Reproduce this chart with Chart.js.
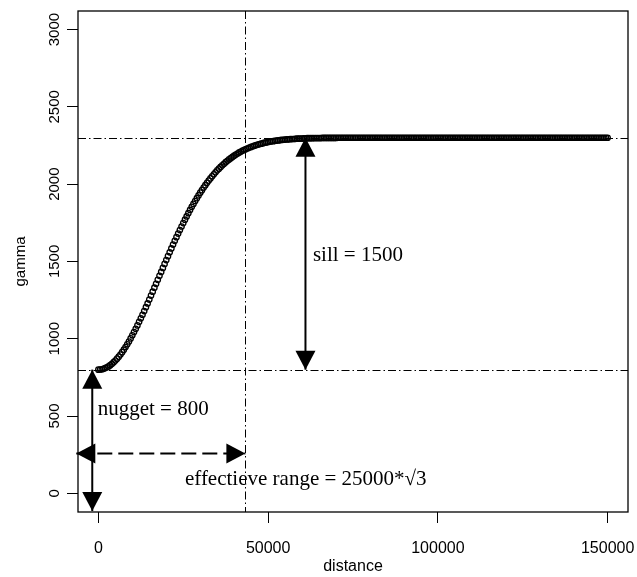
<!DOCTYPE html>
<html>
<head>
<meta charset="utf-8">
<script src="https://cdn.jsdelivr.net/npm/chart.js@4"></script>
<style>
  html, body { margin: 0; padding: 0; background: #fff; }
  #wrap { width: 637px; height: 577px; }
</style>
</head>
<body>
<div id="wrap"><canvas id="chart" width="637" height="577"></canvas></div>
<script>
// semivariogram points (distance, gamma)
const distances = [
  0,500,1000,1500,2000,2500,3000,3500,4000,4500,5000,5500,6000,6500,7000,7500,8000,8500,9000,9500,
  10000,10500,11000,11500,12000,12500,13000,13500,14000,14500,15000,15500,16000,16500,17000,17500,18000,18500,19000,19500,
  20000,20500,21000,21500,22000,22500,23000,23500,24000,24500,25000,25500,26000,26500,27000,27500,28000,28500,29000,29500,
  30000,30500,31000,31500,32000,32500,33000,33500,34000,34500,35000,35500,36000,36500,37000,37500,38000,38500,39000,39500,
  40000,40500,41000,41500,42000,42500,43000,43500,44000,44500,45000,45500,46000,46500,47000,47500,48000,48500,49000,49500,
  50000,50500,51000,51500,52000,52500,53000,53500,54000,54500,55000,55500,56000,56500,57000,57500,58000,58500,59000,59500,
  60000,60500,61000,61500,62000,62500,63000,63500,64000,64500,65000,65500,66000,66500,67000,67500,68000,68500,69000,69500,
  70000,70500,71000,71500,72000,72500,73000,73500,74000,74500,75000,75500,76000,76500,77000,77500,78000,78500,79000,79500,
  80000,80500,81000,81500,82000,82500,83000,83500,84000,84500,85000,85500,86000,86500,87000,87500,88000,88500,89000,89500,
  90000,90500,91000,91500,92000,92500,93000,93500,94000,94500,95000,95500,96000,96500,97000,97500,98000,98500,99000,99500,
  100000,100500,101000,101500,102000,102500,103000,103500,104000,104500,105000,105500,106000,106500,107000,107500,108000,108500,109000,109500,
  110000,110500,111000,111500,112000,112500,113000,113500,114000,114500,115000,115500,116000,116500,117000,117500,118000,118500,119000,119500,
  120000,120500,121000,121500,122000,122500,123000,123500,124000,124500,125000,125500,126000,126500,127000,127500,128000,128500,129000,129500,
  130000,130500,131000,131500,132000,132500,133000,133500,134000,134500,135000,135500,136000,136500,137000,137500,138000,138500,139000,139500,
  140000,140500,141000,141500,142000,142500,143000,143500,144000,144500,145000,145500,146000,146500,147000,147500,148000,148500,149000,149500,
  150000
];
const gamma = [
  800,801,802,805,810,815,821,829,838,848,859,871,884,898,913,929,946,964,982,1002,
  1022,1043,1064,1086,1109,1132,1155,1179,1204,1228,1253,1279,1304,1330,1355,1381,1407,1432,1458,1484,
  1509,1534,1559,1584,1609,1633,1657,1680,1703,1726,1748,1770,1791,1812,1833,1853,1872,1891,1909,1927,
  1945,1961,1978,1993,2009,2023,2037,2051,2064,2077,2089,2100,2111,2122,2132,2142,2151,2160,2168,2176,
  2184,2191,2198,2205,2211,2217,2222,2227,2232,2237,2241,2245,2249,2253,2256,2259,2262,2265,2268,2270,
  2273,2275,2277,2278,2280,2282,2283,2285,2286,2287,2288,2289,2290,2291,2292,2292,2293,2294,2294,2295,
  2295,2296,2296,2297,2297,2297,2297,2298,2298,2298,2298,2298,2299,2299,2299,2299,2299,2299,2299,2299,
  2299,2300,2300,2300,2300,2300,2300,2300,2300,2300,2300,2300,2300,2300,2300,2300,2300,2300,2300,2300,
  2300,2300,2300,2300,2300,2300,2300,2300,2300,2300,2300,2300,2300,2300,2300,2300,2300,2300,2300,2300,
  2300,2300,2300,2300,2300,2300,2300,2300,2300,2300,2300,2300,2300,2300,2300,2300,2300,2300,2300,2300,
  2300,2300,2300,2300,2300,2300,2300,2300,2300,2300,2300,2300,2300,2300,2300,2300,2300,2300,2300,2300,
  2300,2300,2300,2300,2300,2300,2300,2300,2300,2300,2300,2300,2300,2300,2300,2300,2300,2300,2300,2300,
  2300,2300,2300,2300,2300,2300,2300,2300,2300,2300,2300,2300,2300,2300,2300,2300,2300,2300,2300,2300,
  2300,2300,2300,2300,2300,2300,2300,2300,2300,2300,2300,2300,2300,2300,2300,2300,2300,2300,2300,2300,
  2300,2300,2300,2300,2300,2300,2300,2300,2300,2300,2300,2300,2300,2300,2300,2300,2300,2300,2300,2300,
  2300
];
const xTicks = [0, 50000, 100000, 150000];
const yTicks = [0, 500, 1000, 1500, 2000, 2500, 3000];

// model parameters shown on the plot
const nugget = 800;
const sill = 1500;
const effRange = 43301; // 25000 * sqrt(3)

const points = distances.map((d, i) => ({ x: d, y: gamma[i] }));

const serif = '"Liberation Serif", "Times New Roman", serif';
const sans = '"Liberation Sans", Arial, sans-serif';

function head(ctx, x, y, ang) {
  const L = 19, W = 10;
  const c = Math.cos(ang), s = Math.sin(ang);
  ctx.beginPath();
  ctx.moveTo(x, y);
  ctx.lineTo(x - L * c + W * s, y - L * s - W * c);
  ctx.lineTo(x - L * c - W * s, y - L * s + W * c);
  ctx.closePath();
  ctx.fill();
}

function arrow(ctx, x0, y0, x1, y1, dash) {
  const ang = Math.atan2(y1 - y0, x1 - x0);
  ctx.save();
  ctx.strokeStyle = '#000';
  ctx.fillStyle = '#000';
  ctx.lineWidth = 2;
  ctx.setLineDash(dash || []);
  ctx.beginPath();
  ctx.moveTo(x0, y0);
  ctx.lineTo(x1, y1);
  ctx.stroke();
  ctx.setLineDash([]);
  head(ctx, x1, y1, ang);
  head(ctx, x0, y0, ang + Math.PI);
  ctx.restore();
}

const refLines = {
  id: 'refLines',
  beforeDatasetsDraw(chart) {
    const { ctx, chartArea: a, scales: { x, y } } = chart;
    ctx.save();
    ctx.strokeStyle = '#000';
    ctx.lineWidth = 1;
    ctx.setLineDash([8, 3, 1.5, 3]);
    [nugget, nugget + sill].forEach(v => {
      const py = Math.round(y.getPixelForValue(v)) + 0.5;
      ctx.beginPath(); ctx.moveTo(a.left, py); ctx.lineTo(a.right, py); ctx.stroke();
    });
    const px = Math.round(x.getPixelForValue(effRange)) + 0.5;
    ctx.beginPath(); ctx.moveTo(px, a.top); ctx.lineTo(px, a.bottom); ctx.stroke();
    ctx.restore();
  },
  afterDatasetsDraw(chart) {
    const { ctx, scales: { x, y } } = chart;
    // nugget arrow
    arrow(ctx, x.getPixelForValue(-1800), y.getPixelForValue(-115),
               x.getPixelForValue(-1800), y.getPixelForValue(nugget));
    // effective range arrow
    arrow(ctx, x.getPixelForValue(-6500), y.getPixelForValue(258),
               x.getPixelForValue(effRange), y.getPixelForValue(258), [15, 6]);
    // sill arrow
    arrow(ctx, x.getPixelForValue(61000), y.getPixelForValue(nugget),
               x.getPixelForValue(61000), y.getPixelForValue(nugget + sill));

    ctx.save();
    ctx.fillStyle = '#000';
    ctx.font = '21px ' + serif;
    ctx.textAlign = 'left';
    ctx.textBaseline = 'alphabetic';
    ctx.fillText('nugget = 800', x.getPixelForValue(-200), y.getPixelForValue(507));
    ctx.fillText('effectieve range = 25000*\u221A3', x.getPixelForValue(25500), y.getPixelForValue(55));
    ctx.fillText('sill = 1500', x.getPixelForValue(63200), y.getPixelForValue(1505));
    ctx.restore();
  },
  afterDraw(chart) {
    const { ctx, chartArea: a } = chart;
    ctx.save();
    ctx.strokeStyle = '#000';
    ctx.lineWidth = 1.3;
    ctx.strokeRect(a.left, a.top, a.right - a.left, a.bottom - a.top);
    ctx.restore();
  }
};

new Chart(document.getElementById('chart'), {
  type: 'scatter',
  data: {
    datasets: [{
      data: points,
      showLine: false,
      pointStyle: 'circle',
      pointRadius: 2.7,
      pointBorderWidth: 1.3,
      pointBorderColor: '#000',
      pointBackgroundColor: 'rgba(0,0,0,0)'
    }]
  },
  options: {
    responsive: false,
    animation: false,
    layout: { padding: { top: 11, right: 9, left: 0, bottom: 0 } },
    plugins: { legend: { display: false }, tooltip: { enabled: false } },
    scales: {
      x: {
        type: 'linear',
        min: -6000,
        max: 156000,
        afterBuildTicks: axis => { axis.ticks = xTicks.map(v => ({ value: v })); },
        afterFit: axis => { axis.height = 65; axis.paddingLeft = 0; axis.paddingRight = 0; },
        grid: { drawOnChartArea: false, drawTicks: true, tickLength: 11, color: '#000', lineWidth: 1 },
        border: { display: false },
        ticks: {
          color: '#000', padding: 16, maxRotation: 0, autoSkip: false,
          font: { family: sans, size: 16 },
          callback: v => String(v)
        },
        title: {
          display: true, text: 'distance', color: '#000',
          font: { family: sans, size: 16 }, padding: { top: 0, bottom: 1 }
        }
      },
      y: {
        type: 'linear',
        min: -121,
        max: 3120,
        afterBuildTicks: axis => { axis.ticks = yTicks.map(v => ({ value: v })); },
        afterFit: axis => { axis.width = 78; axis.paddingTop = 0; axis.paddingBottom = 0; },
        grid: { drawOnChartArea: false, drawTicks: true, tickLength: 11, color: '#000', lineWidth: 1 },
        border: { display: false },
        ticks: {
          color: '#000', padding: -5, minRotation: 90, maxRotation: 90, autoSkip: false,
          crossAlign: 'center',
          font: { family: sans, size: 15 },
          callback: v => String(v)
        },
        title: {
          display: true, text: 'gamma', color: '#000',
          font: { family: sans, size: 15 }, padding: { top: 12, bottom: 0 }
        }
      }
    }
  },
  plugins: [refLines]
});
</script>
</body>
</html>
